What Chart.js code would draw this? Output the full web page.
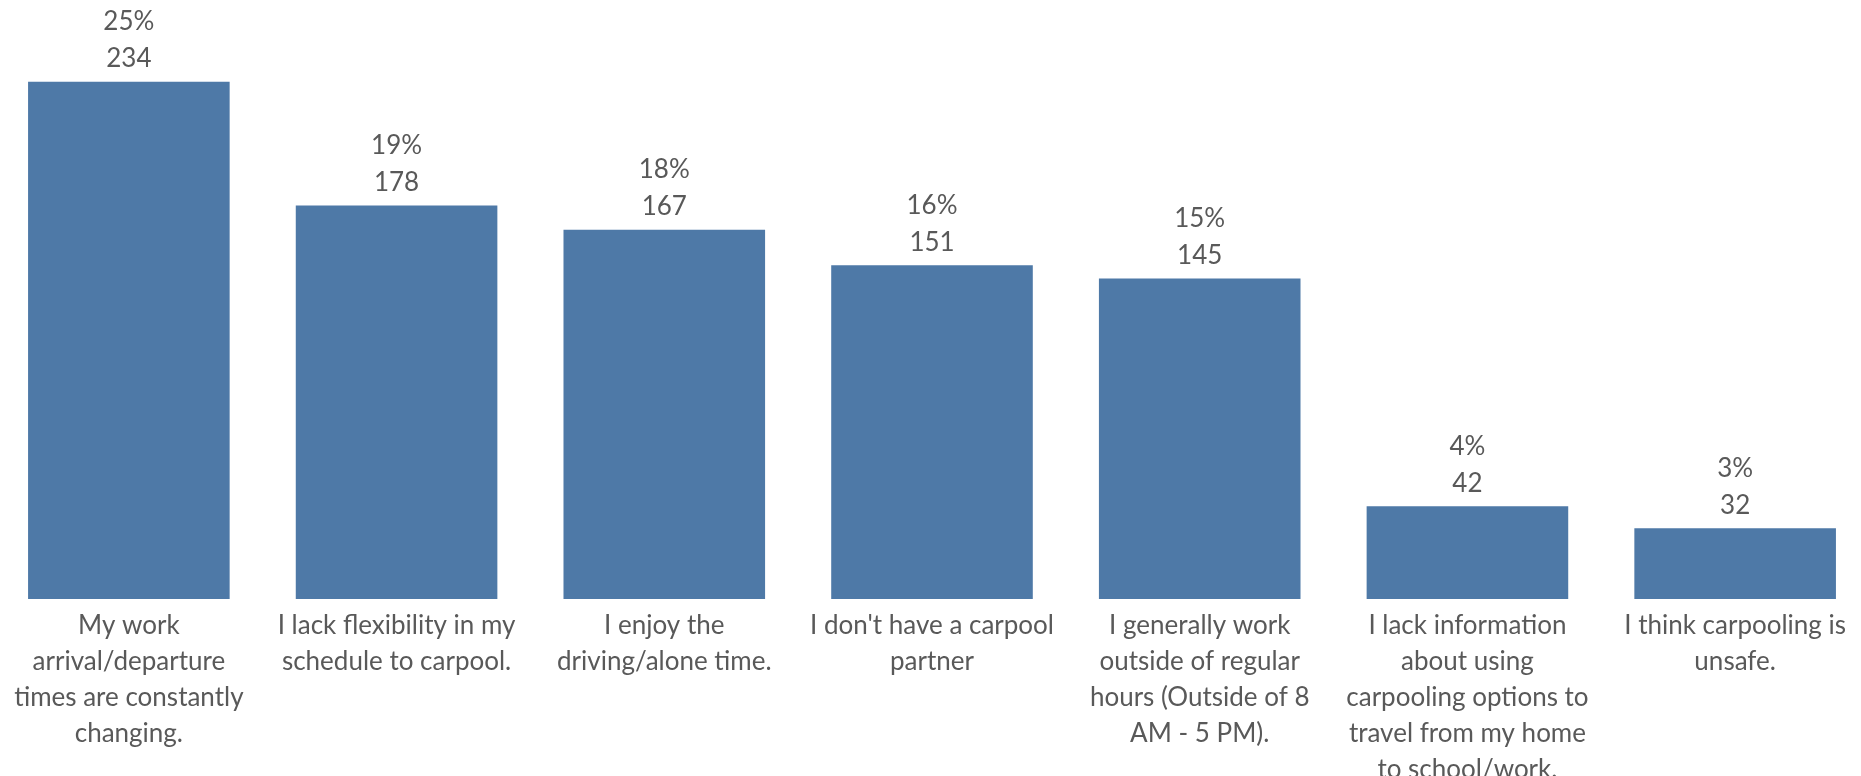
<!DOCTYPE html>
<html>
<head>
<meta charset="utf-8">
<script src="https://cdn.jsdelivr.net/npm/chart.js@4/dist/chart.umd.min.js"></script>
<style>
  html, body { margin: 0; padding: 0; background: #fff; overflow: hidden; }
  #wrap { position: absolute; left: -5px; top: 0; width: 1874px; height: 776px; }
</style>
</head>
<body>
<div id="wrap"><canvas id="chart"></canvas></div>
<script>
const categories = [
  ["My work", "arrival/departure", "times are constantly", "changing."],
  ["I lack flexibility in my", "schedule to carpool."],
  ["I enjoy the", "driving/alone time."],
  ["I don't have a carpool", "partner"],
  ["I generally work", "outside of regular", "hours (Outside of 8", "AM - 5 PM)."],
  ["I lack information", "about using", "carpooling options to", "travel from my home", "to school/work."],
  ["I think carpooling is", "unsafe."]
];
const counts = [234, 178, 167, 151, 145, 42, 32];
const percents = [25, 19, 18, 16, 15, 4, 3];

const textColor = '#595959';
const fontFamily = 'Lato, "Open Sans", sans-serif';

// draws the two-line "pct% / count" label above each bar
const valueLabels = {
  id: 'valueLabels',
  afterDatasetsDraw(chart) {
    const ctx = chart.ctx;
    const meta = chart.getDatasetMeta(0);
    ctx.save();
    ctx.fillStyle = textColor;
    ctx.font = '26px ' + fontFamily;
    ctx.textAlign = 'center';
    ctx.textBaseline = 'middle';
    meta.data.forEach((bar, i) => {
      ctx.fillText(counts[i], bar.x, bar.y - 23);
      ctx.fillText(percents[i] + '%', bar.x, bar.y - 60);
    });
    ctx.restore();
  }
};

new Chart(document.getElementById('chart'), {
  type: 'bar',
  data: {
    labels: categories,
    datasets: [{
      data: counts,
      backgroundColor: '#4E79A7',
      categoryPercentage: 1,
      barPercentage: 0.753
    }]
  },
  options: {
    responsive: true,
    maintainAspectRatio: false,
    animation: false,
    layout: { padding: 0 },
    plugins: {
      legend: { display: false },
      tooltip: { enabled: false }
    },
    scales: {
      x: {
        grid: { display: false },
        border: { display: false },
        ticks: {
          color: textColor,
          font: { family: fontFamily, size: 26, lineHeight: 1.385 },
          padding: 1,
          maxRotation: 0,
          autoSkip: false
        },
        afterFit(scale) { scale.height = 177; }
      },
      y: {
        display: false,
        min: 0,
        max: 271
      }
    }
  },
  plugins: [valueLabels]
});
</script>
</body>
</html>
